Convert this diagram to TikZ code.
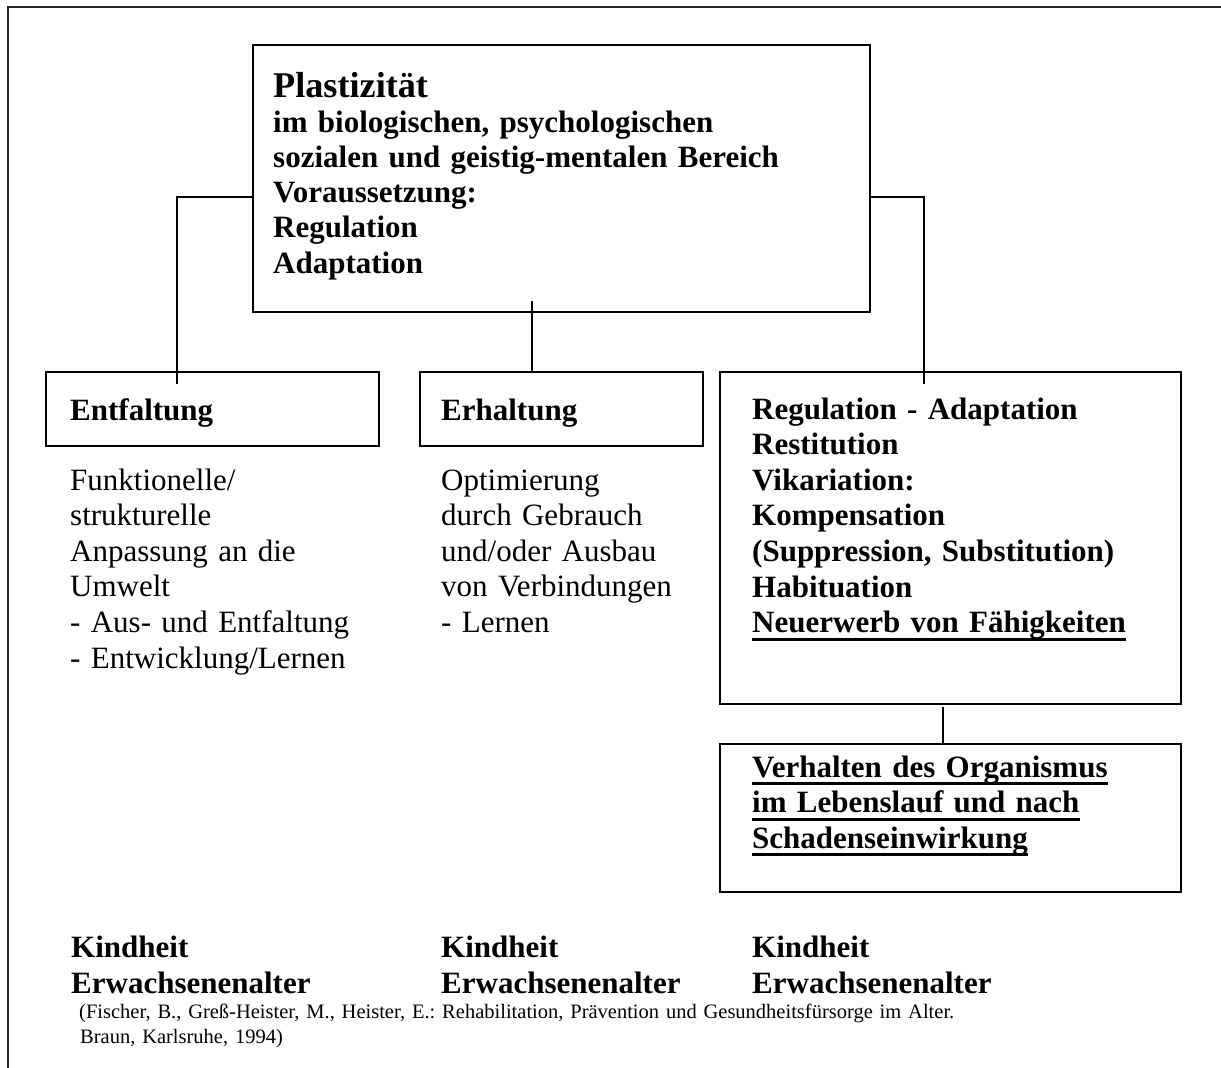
\documentclass[tikz,border=0pt]{standalone}
\usepackage{fontspec}
\setmainfont{Liberation Serif}
\usetikzlibrary{calc}
\newsavebox\ulbox
\newcommand\ulline[1]{\leavevmode\sbox\ulbox{#1}\rlap{\rule[-8pt]{\wd\ulbox}{2.8pt}}\usebox\ulbox}
\newcommand\bodyfont{\fontsize{31}{35.6}\selectfont}
\newcommand\topfont{\fontsize{31}{35.2}\selectfont}
\newcommand\bigfont{\fontsize{36.2}{36}\selectfont}
\newcommand\agefont{\fontsize{31}{36}\selectfont}
\newcommand\citefont{\fontsize{20.5}{25}\selectfont}
\lineskiplimit=-100pt
\frenchspacing
\begin{document}
\begin{tikzpicture}[x=1pt,y=-1pt,
  frameline/.style={line width=2pt, draw=black!85},
  box/.style={draw, line width=2.2pt, inner sep=0pt, anchor=north west},
  conn/.style={draw, line width=1.2pt},
  txtbase/.style={anchor=base west, inner sep=0pt, align=left, text width=#1}
]
\useasboundingbox (0,0) rectangle (1221,1068);
% outer frame (top and left edges)
\draw[frameline] (8,1068) -- (8,7) -- (1221,7);

% boxes
\node[box, minimum width=617pt, minimum height=267pt] (top) at (252,44) {};
\node[box, minimum width=333pt, minimum height=74pt] (ent) at (45,371) {};
\node[box, minimum width=283pt, minimum height=74pt] (erh) at (419,371) {};
\node[box, minimum width=461pt, minimum height=332pt] (reg) at (719,371) {};
\node[box, minimum width=461pt, minimum height=148pt] (ver) at (719,743) {};

% connectors
\draw[conn] ($(top.north west)+(0,153)$) -| ($(ent.north west)+(132,13)$);
\draw[conn] ($(top.south west)+(280,-12)$) -- ($(erh.north west)+(113,0)$);
\draw[conn] ($(top.north east)+(0,153)$) -| ($(reg.north west)+(205,13)$);
\draw[conn] ($(reg.south west)+(224,2)$) -- ($(ver.north west)+(224,0)$);

% texts
\node[txtbase=590pt, font=\bfseries\topfont] (toptext) at (273,97)
  {{\bigfont Plastizität}\\
   im biologischen, psychologischen\\
   sozialen und geistig-mentalen Bereich\\
   Voraussetzung:\\
   Regulation\\
   Adaptation};

\node[txtbase=300pt, font=\bfseries\bodyfont] (enttext) at (70,420) {Entfaltung};
\node[txtbase=250pt, font=\bfseries\bodyfont] (erhtext) at (441,420) {Erhaltung};
\node[txtbase=420pt, font=\bfseries\bodyfont] (regtext) at (752,419)
  {Regulation - Adaptation\\
   Restitution\\
   Vikariation:\\
   Kompensation\\
   (Suppression, Substitution)\\
   Habituation\\
   \ulline{Neuerwerb von Fähigkeiten}};

\node[txtbase=340pt, font=\bodyfont] (entdesc) at (70,490)
  {Funktionelle/\\
   strukturelle\\
   Anpassung an die\\
   Umwelt\\
   - Aus- und Entfaltung\\
   - Entwicklung/Lernen};
\node[txtbase=270pt, font=\bodyfont] (erhdesc) at (441,490)
  {Optimierung\\
   durch Gebrauch\\
   und/oder Ausbau\\
   von Verbindungen\\
   - Lernen};

\node[txtbase=420pt, font=\bfseries\bodyfont] (vertext) at (752,777)
  {\ulline{Verhalten des Organismus}\\
   \ulline{im Lebenslauf und nach}\\
   \ulline{Schadenseinwirkung}};

\node[txtbase=330pt, font=\bfseries\agefont] (age1) at (71,957) {Kindheit\\Erwachsenenalter};
\node[txtbase=300pt, font=\bfseries\agefont] (age2) at (441,957) {Kindheit\\Erwachsenenalter};
\node[txtbase=300pt, font=\bfseries\agefont] (age3) at (752,957) {Kindheit\\Erwachsenenalter};

\node[txtbase=1000pt, font=\citefont] (cite) at (79,1018)
  {(Fischer, B., Greß-Heister, M., Heister, E.: Rehabilitation, Prävention und Gesundheitsfürsorge im Alter.\\
   \hspace*{1pt}Braun, Karlsruhe, 1994)};
\end{tikzpicture}
\end{document}
